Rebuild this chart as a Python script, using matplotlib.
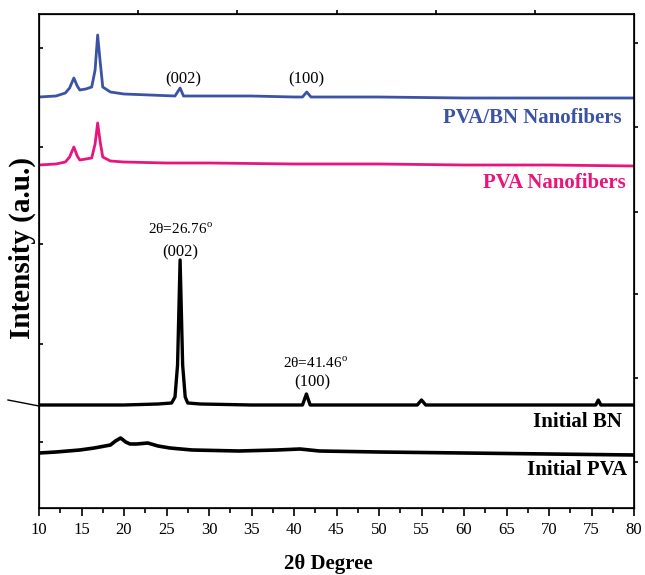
import matplotlib.pyplot as plt
from matplotlib.lines import Line2D

plt.rcParams['font.family'] = ['Liberation Serif', 'DejaVu Serif']

# 2theta (deg) and intensity above each baseline (a.u.)
pvabn_x = [10, 12, 13.1, 13.6, 14.1, 14.5, 14.8, 15.5, 16.2, 16.6, 16.9, 17.2, 17.5, 18.4, 20, 23, 26,
           26.6, 27, 30, 35, 40, 41.0, 41.5, 42, 50, 60, 70, 80]
pvabn_y = [0, 1, 4, 9, 19, 11, 7, 8, 10, 27, 62, 35, 10, 5, 3, 2, 1,
           9, 1, 1, 1, 0, 0, 5, 0, 0, -1, -1, -1]

pvanf_x = [10, 12, 13.1, 13.6, 14.1, 14.5, 14.8, 15.5, 16.2, 16.6, 16.9, 17.2, 17.5, 18.4, 20, 25, 30,
           40, 50, 60, 70, 80]
pvanf_y = [-1, 0, 2, 7, 17, 8, 4, 5, 6, 20, 41, 22, 7, 3, 2, 1, 1,
           0, 0, -1, -1, -2]

bn_x = [10, 20, 24, 25.6, 26.0, 26.3, 26.6, 26.9, 27.2, 27.5, 29, 35, 41, 41.46, 41.9, 50,
        54.5, 55, 55.5, 75.5, 75.8, 76.1, 80]
bn_y = [0, 0, 1, 2, 8, 40, 145, 40, 8, 2, 1, 0, 0, 11, 0, 0,
        0, 5, 0, 0, 5, 0, 0]

pva_x = [10, 12, 14.8, 16.5, 18.4, 19.0, 19.6, 20.2, 20.7, 21.5, 22.8, 24, 25.4, 28, 33.5, 38,
         40.7, 43, 50, 60, 70, 80]
pva_y = [0, 1, 3, 5, 8, 12, 15, 11, 9, 9, 10, 7, 5, 3, 2, 3,
         4, 2, 1, 0, -1, -2]

baselines = [411, 344, 103, 55]
names = ["PVA/BN Nanofibers", "PVA Nanofibers", "Initial BN", "Initial PVA"]
colors = ["#3a53a4", "#e8167c", "black", "black"]
widths = [2.0, 2.0, 2.4, 2.6]

fig = plt.figure(figsize=(6.45, 5.75), dpi=100)
ax = fig.add_axes([39 / 645, 1 - 508 / 575, 595 / 645, 494 / 575])

traces = [(pvabn_x, pvabn_y), (pvanf_x, pvanf_y), (bn_x, bn_y), (pva_x, pva_y)]
for (x, y), b, c, w in zip(traces, baselines, colors, widths):
    ax.plot(x, [v + b for v in y], color=c, lw=w)

ax.set_xlim(10, 80)
ax.set_ylim(0, 494)
ax.set_xticks(range(10, 81, 5))
ax.set_xticks([12.5 + 5 * i for i in range(14)], minor=True)
ax.set_yticks([66, 164, 264, 361, 460])
ax.set_yticklabels([])
ax.tick_params(axis='x', direction='out', length=6, width=1.2, labelsize=12, pad=4)
ax.tick_params(axis='x', which='minor', direction='out', length=3.5, width=1.2)
ax.tick_params(axis='y', direction='in', length=3, width=1.2)
for s in ax.spines.values():
    s.set_linewidth(1.2)

# extra ticks on the top and right frame
axt = ax.twiny()
axt.set_xlim(0, 6)
axt.set_xticks([1, 2, 3, 4, 5])
axt.set_xticklabels([])
axt.tick_params(direction='out', length=3, width=1.2)
axr = ax.twinx()
axr.set_ylim(0, 494)
axr.set_yticks([46, 130, 214, 296, 381, 465])
axr.set_yticklabels([])
axr.tick_params(direction='out', length=3, width=1.2)

fig.text(328 / 645, 1 - 564 / 575, "2θ Degree", fontsize=15, fontweight='bold', ha='center', va='center')
fig.text(22 / 645, 1 - 248 / 575, "Intensity (a.u.)", fontsize=21, fontweight='bold',
         rotation=90, ha='center', va='center')

# trace names
ax.text(78.6, 390, names[0], color=colors[0], fontsize=15, fontweight='bold', ha='right', va='center')
ax.text(79.0, 325, names[1], color=colors[1], fontsize=15, fontweight='bold', ha='right', va='center')
ax.text(78.6, 86, names[2], color=colors[2], fontsize=15, fontweight='bold', ha='right', va='center')
ax.text(79.2, 38, names[3], color=colors[3], fontsize=15, fontweight='bold', ha='right', va='center')

# peak labels
ax.text(27.0, 429, "(002)", fontsize=12, ha='center', va='center')
ax.text(41.5, 429, "(100)", fontsize=12, ha='center', va='center')
ax.text(26.6, 279, "2θ=26.76$^\\mathregular{o}$", fontsize=11, ha='center', va='center')
ax.text(26.6, 256, "(002)", fontsize=12, ha='center', va='center')
ax.text(42.5, 145, "2θ=41.46$^\\mathregular{o}$", fontsize=11, ha='center', va='center')
ax.text(42.2, 126, "(100)", fontsize=12, ha='center', va='center')

# stray line left of the frame
fig.add_artist(Line2D([8 / 645, 39 / 645], [1 - 400 / 575, 1 - 406 / 575], color='black', lw=1))

fig.savefig("out.png", dpi=100)
